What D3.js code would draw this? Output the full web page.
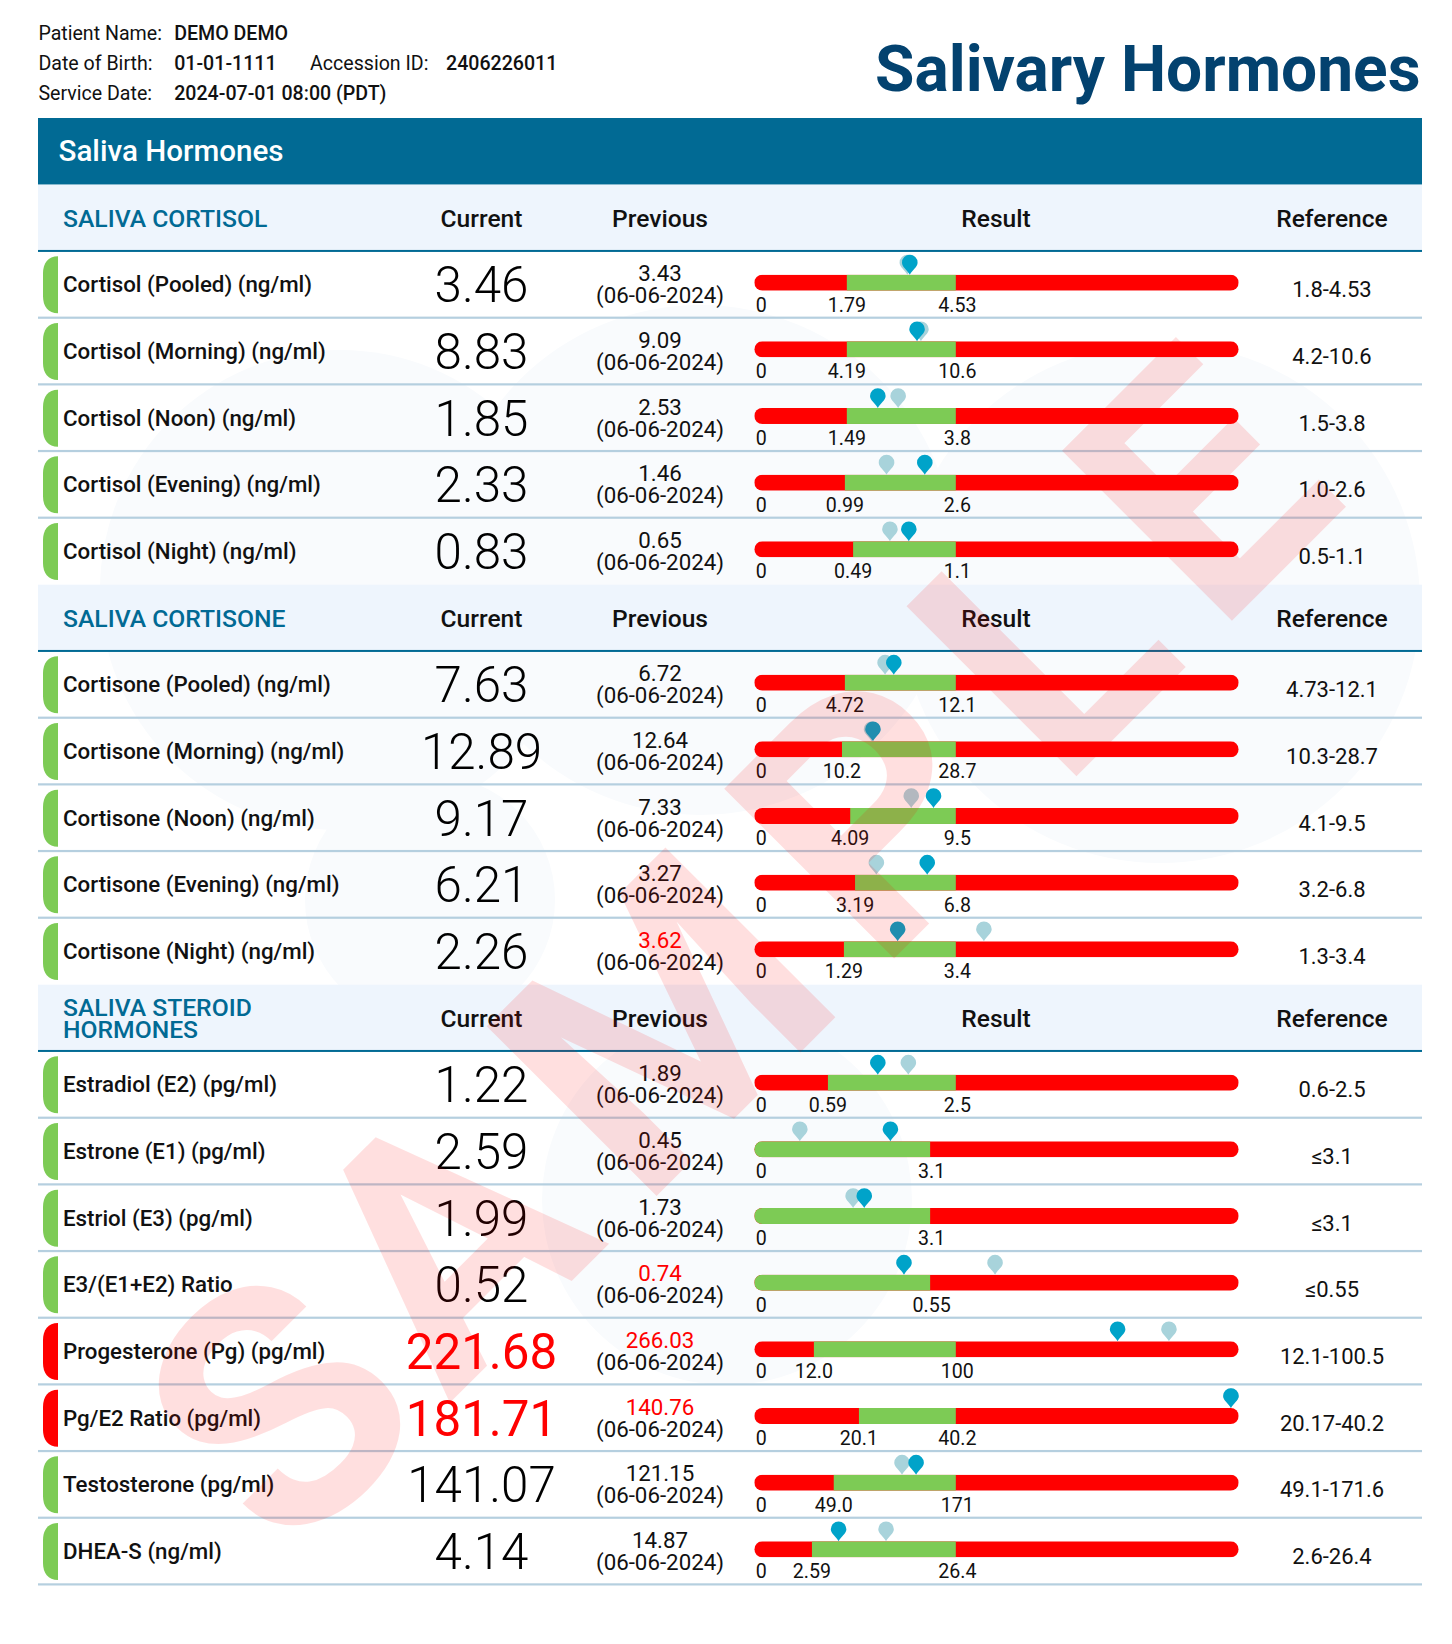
<!DOCTYPE html>
<html><head><meta charset="utf-8">
<script src="https://cdn.jsdelivr.net/npm/d3@7"></script>
<style>html,body{margin:0;padding:0;background:#fff}svg{display:block}text{font-family:Roboto,sans-serif}</style>
</head><body><div id="chart"></div>
<script>
// ---- header text
const patientLines = [
  ["Patient Name:", "DEMO DEMO"],
  ["Date of Birth:", "01-01-1111"],
  ["Service Date:", "2024-07-01 08:00 (PDT)"]
];
const accession = ["Accession ID:", "2406226011"];
const pageTitle = "Salivary Hormones";
const bandTitle = "Saliva Hormones";
const columnTitles = ["Current", "Previous", "Result", "Reference"];
const watermark = "SAMPLE";

// ---- sections: title lines and number of rows
const sectionTitles = [["SALIVA CORTISOL"], ["SALIVA CORTISONE"], ["SALIVA STEROID", "HORMONES"]];
const sectionSizes = [5, 5, 8];

// ---- rows
const rowNames = ["Cortisol (Pooled) (ng/ml)","Cortisol (Morning) (ng/ml)","Cortisol (Noon) (ng/ml)","Cortisol (Evening) (ng/ml)","Cortisol (Night) (ng/ml)",
  "Cortisone (Pooled) (ng/ml)","Cortisone (Morning) (ng/ml)","Cortisone (Noon) (ng/ml)","Cortisone (Evening) (ng/ml)","Cortisone (Night) (ng/ml)",
  "Estradiol (E2) (pg/ml)","Estrone (E1) (pg/ml)","Estriol (E3) (pg/ml)","E3/(E1+E2) Ratio","Progesterone (Pg) (pg/ml)","Pg/E2 Ratio (pg/ml)","Testosterone (pg/ml)","DHEA-S (ng/ml)"];
const currentValues = ["3.46","8.83","1.85","2.33","0.83","7.63","12.89","9.17","6.21","2.26","1.22","2.59","1.99","0.52","221.68","181.71","141.07","4.14"];
const previousValues = ["3.43","9.09","2.53","1.46","0.65","6.72","12.64","7.33","3.27","3.62","1.89","0.45","1.73","0.74","266.03","140.76","121.15","14.87"];
const previousDate = "(06-06-2024)";
const previousFlag = [0,0,0,0,0,0,0,0,0,1,0,0,0,1,1,1,0,0];
const currentFlag  = [0,0,0,0,0,0,0,0,0,0,0,0,0,0,1,1,0,0];
const referenceRanges = ["1.8-4.53","4.2-10.6","1.5-3.8","1.0-2.6","0.5-1.1","4.73-12.1","10.3-28.7","4.1-9.5","3.2-6.8","1.3-3.4","0.6-2.5","≤3.1","≤3.1","≤0.55","12.1-100.5","20.17-40.2","49.1-171.6","2.6-26.4"];
const lowLabels  = ["1.79","4.19","1.49","0.99","0.49","4.72","10.2","4.09","3.19","1.29","0.59",null,null,null,"12.0","20.1","49.0","2.59"];
const highLabels = ["4.53","10.6","3.8","2.6","1.1","12.1","28.7","9.5","6.8","3.4","2.5","3.1","3.1","0.55","100","40.2","171","26.4"];

// ---- gauge readings, percent of the gauge length
const lowGauge  = [19.1,19.1,19.1,18.7,20.4,18.7,18.1,19.8,20.8,18.5,15.2,0,0,0,12.3,21.6,16.4,11.9];
const highGauge = [41.6,41.6,41.6,41.6,41.6,41.6,41.6,41.6,41.6,41.6,41.6,36.3,36.3,36.3,41.6,41.6,41.6,41.6];
const currentGauge  = [32.1,33.6,25.5,35.2,31.9,28.8,24.5,37.0,35.7,29.6,25.5,28.1,22.7,30.9,75.0,98.4,33.4,17.4];
const previousGauge = [31.6,34.4,29.7,27.3,28.0,27.0,24.2,32.4,25.2,47.4,31.8,9.4,20.4,49.7,85.6,98.4,30.5,27.2];

// ---- faint background logo blobs [cx, cy, r]
const logoBlobs = [[340,590,240],[700,560,255],[1160,603,260],[430,900,125],[727,1200,185]];

const W = 1452, H = 1644, L = 38, R = 1422;
const TEAL = "#016a94", GREEN = "#7dcb55", RED = "#ff0000";
const y = d3.scaleLinear().domain([0, 22]).range([118, 1584.7]);
const gauge = d3.scaleLinear().domain([0, 100]).range([754.3, 1238.7]);
const col = {name:63, cur:481.5, prev:660, res:996, ref:1332};

const svg = d3.select("#chart").append("svg").attr("width", W).attr("height", H).attr("viewBox", `0 0 ${W} ${H}`);
const defs = svg.append("defs");

// blobs
svg.append("g").selectAll("circle").data(logoBlobs).join("circle")
  .attr("cx", d => d[0]).attr("cy", d => d[1]).attr("r", d => d[2]).attr("fill", "#f9fbfd");

// header
const hdr = svg.append("g").attr("font-size", 19.6).attr("fill", "#111");
patientLines.forEach((p, i) => {
  const by = 40 + i * 30;
  hdr.append("text").attr("x", 38.4).attr("y", by).text(p[0]);
  hdr.append("text").attr("x", 174.2).attr("y", by).attr("font-weight", 500).text(p[1]);
});
hdr.append("text").attr("x", 310).attr("y", 70).text(accession[0]);
hdr.append("text").attr("x", 446).attr("y", 70).attr("font-weight", 500).text(accession[1]);
svg.append("text").attr("x", 1420.5).attr("y", 91).attr("text-anchor", "end").attr("font-size", 64).attr("font-weight", 700).attr("fill", "#03426f").text(pageTitle);

// band
svg.append("rect").attr("x", L).attr("y", y(0)).attr("width", R - L).attr("height", y(1) - y(0)).attr("fill", TEAL);
svg.append("text").attr("x", 58.5).attr("y", 160.7).attr("font-size", 29.6).attr("font-weight", 500).attr("fill", "#fff").text(bandTitle);

// sections and rows
let slot = 1, idx = 0;
const rows = [];
sectionTitles.forEach((title, s) => {
  const top = y(slot), bot = y(slot + 1);
  svg.append("rect").attr("x", L).attr("y", top).attr("width", R - L).attr("height", bot - top).attr("fill", "#eef5fd");
  svg.append("rect").attr("x", L).attr("y", bot - 1.4).attr("width", R - L).attr("height", 2).attr("fill", TEAL);
  title.forEach((t, k) => {
    const base = title.length === 1 ? top + 42 : top + 31 + k * 22;
    svg.append("text").attr("x", col.name).attr("y", base).attr("font-size", 24.7).attr("font-weight", 500).attr("fill", TEAL).text(t);
  });
  columnTitles.forEach((t, k) => {
    svg.append("text").attr("x", [col.cur, col.prev, col.res, col.ref][k]).attr("y", top + 42)
      .attr("text-anchor", "middle").attr("font-size", 24.6).attr("font-weight", 500).attr("fill", "#111").text(t);
  });
  slot++;
  for (let r = 0; r < sectionSizes[s]; r++) rows.push({i: idx++, slot: slot++});
});

const rowG = svg.append("g").selectAll("g").data(rows).join("g")
  .attr("transform", d => `translate(0,${y(d.slot)})`);

// separators
rowG.filter(d => d.i !== 4 && d.i !== 9).append("rect")
  .attr("x", L).attr("y", y(1) - y(0) - 1.4).attr("width", R - L).attr("height", 2.2).attr("fill", "#b5cfdf");

// status pill
rowG.append("path")
  .attr("d", "M58,5 C48,5 43,12 43,22 V45 C43,55 48,62 58,62 Z")
  .attr("fill", d => currentFlag[d.i] ? RED : GREEN);

rowG.append("text").attr("x", col.name).attr("y", 41).attr("font-size", 22.3).attr("font-weight", 500).attr("fill", "#111")
  .text(d => rowNames[d.i]);
rowG.append("text").attr("x", col.cur).attr("y", 51).attr("text-anchor", "middle").attr("font-size", 49.3)
  .attr("font-weight", d => currentFlag[d.i] ? 400 : 300)
  .attr("fill", d => currentFlag[d.i] ? RED : "#000").text(d => currentValues[d.i]);
rowG.append("text").attr("x", col.prev).attr("y", 30).attr("text-anchor", "middle").attr("font-size", 22.3)
  .attr("fill", d => previousFlag[d.i] ? RED : "#111").text(d => previousValues[d.i]);
rowG.append("text").attr("x", col.prev).attr("y", 52).attr("text-anchor", "middle").attr("font-size", 22.3)
  .attr("fill", "#111").text(previousDate);
rowG.append("text").attr("x", col.ref).attr("y", 46).attr("text-anchor", "middle").attr("font-size", 22)
  .attr("fill", "#111").text(d => referenceRanges[d.i]);

// gauges
const BAR_Y = 23.3, BAR_H = 16;
defs.append("clipPath").attr("id", "barClip").append("rect")
  .attr("x", gauge(0)).attr("y", BAR_Y).attr("width", gauge(100) - gauge(0)).attr("height", BAR_H).attr("rx", 8);
const bars = rowG.append("g").attr("clip-path", "url(#barClip)");
bars.append("rect").attr("x", gauge(0)).attr("y", BAR_Y).attr("width", gauge(100) - gauge(0)).attr("height", BAR_H).attr("fill", RED);
bars.append("rect").attr("x", d => gauge(lowGauge[d.i])).attr("y", BAR_Y)
  .attr("width", d => gauge(highGauge[d.i]) - gauge(lowGauge[d.i])).attr("height", BAR_H).attr("fill", GREEN);

const tick = rowG.append("g").attr("font-size", 19.6).attr("fill", "#111").attr("text-anchor", "middle");
tick.append("text").attr("x", gauge(0) + 7).attr("y", 60.3).text("0");
tick.filter(d => lowLabels[d.i] !== null).append("text").attr("x", d => gauge(lowGauge[d.i])).attr("y", 60.3).text(d => lowLabels[d.i]);
tick.append("text").attr("x", d => gauge(highGauge[d.i]) + 1.5).attr("y", 60.3).text(d => highLabels[d.i]);

const PIN = "M0,0 C-2.5,-5 -7.8,-7.5 -7.8,-12 A7.8,7.8 0 1,1 7.8,-12 C7.8,-7.5 2.5,-5 0,0 Z";
rowG.append("path").attr("d", PIN).attr("fill", "#a8d3db")
  .attr("transform", d => `translate(${gauge(previousGauge[d.i])},${BAR_Y})`);
rowG.append("path").attr("d", PIN).attr("fill", "#00a3c9")
  .attr("transform", d => `translate(${gauge(currentGauge[d.i])},${BAR_Y})`);

// watermark on top
svg.append("text").attr("transform", "translate(748.8,934.2) rotate(-45)")
  .attr("text-anchor", "middle").attr("y", 120).attr("font-size", 338).attr("font-weight", 700)
  .attr("letter-spacing", 40).attr("dx", "0 -20 5 0 0 -3")
  .attr("fill", "#ff0000").attr("fill-opacity", 0.125).text(watermark);
</script></body></html>
